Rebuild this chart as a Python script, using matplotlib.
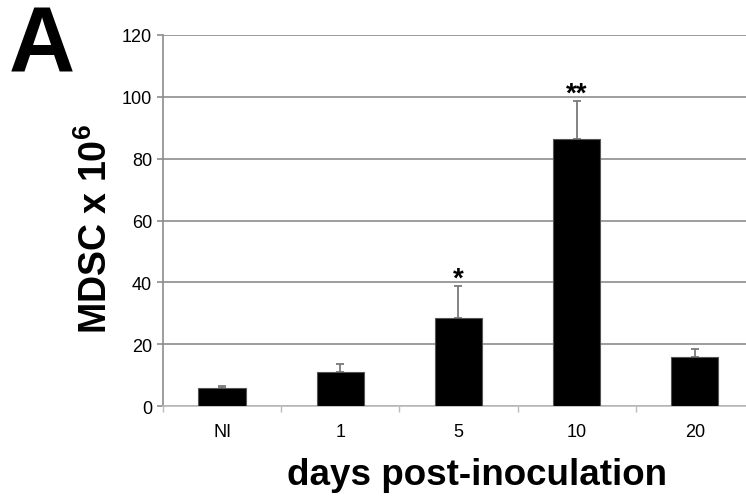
import matplotlib.pyplot as plt
import numpy as np

plt.rcParams.update({
    'font.family': 'Liberation Sans',
    'mathtext.fontset': 'custom',
    'mathtext.rm': 'Liberation Sans',
    'mathtext.bf': 'Liberation Sans:bold',
})

# data
days = ['NI', '1', '5', '10', '20']
mdsc = [5.8, 10.9, 28.6, 86.2, 15.7]
sem = [0.6, 2.8, 10.1, 12.3, 2.8]
stars = ['', '', '*', '**', '']

GRID = '#8c8c8c'

fig = plt.figure(figsize=(7.46, 5.02), dpi=100)
ax = fig.add_axes([0.2185, 0.1892, 0.792, 0.7391])

x = np.arange(len(days))
ax.bar(x, mdsc, width=0.4, color='black', edgecolor='#555555', linewidth=0.8, zorder=3)
ax.errorbar(x, mdsc, yerr=[np.zeros(len(sem)), sem], fmt='none',
            ecolor='#7a7a7a', elinewidth=1.3, capsize=3, capthick=1.3, zorder=2)

for xi, m, e, s in zip(x, mdsc, sem, stars):
    if s:
        ax.text(xi, m + e + 0.3, s, ha='center', va='baseline',
                fontsize=20, fontweight='bold')

ax.set_xlim(-0.5, len(days) - 0.5)
ax.set_ylim(0, 120)
ax.set_yticks(range(0, 121, 20))
ax.yaxis.grid(True, color=GRID, linewidth=1.2, zorder=0)
ax.set_axisbelow(True)

ax.set_xticks(x)
ax.set_xticklabels(days, fontsize=13)
ax.set_xticks(np.arange(-0.5, len(days), 1), minor=True)
ax.tick_params(axis='x', which='major', length=0, pad=12)
ax.tick_params(axis='x', which='minor', length=4, color='#bbbbbb', width=1)
ax.tick_params(axis='y', labelsize=13, length=4, color=GRID, width=1.2, pad=4)

for side in ['top', 'right']:
    ax.spines[side].set_visible(False)
ax.spines['left'].set_color(GRID)
ax.spines['left'].set_linewidth(1.2)
ax.spines['bottom'].set_color('#bbbbbb')
ax.spines['bottom'].set_linewidth(1.2)

fig.text(0.129, 0.544, r'MDSC x 10$^{\mathbf{6}}$', rotation=90, ha='center', va='center',
         fontsize=27, fontweight='bold')
fig.text(0.64, 0.034, 'days post-inoculation', ha='center', va='baseline',
         fontsize=26.5, fontweight='bold')
fig.text(0.012, 0.857, 'A', ha='left', va='baseline', fontsize=66, fontweight='bold')

fig.savefig('out.png', dpi=100)
